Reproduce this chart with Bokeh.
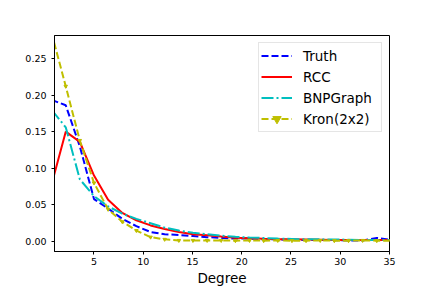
from bokeh.plotting import figure
from bokeh.models import Range1d, FixedTicker, NumeralTickFormatter, Legend, LegendItem
from bokeh.embed import file_html
from bokeh.resources import INLINE

degree = [0.70, 2.14, 3.57, 5.01, 6.44, 7.88, 9.31, 10.75, 12.18, 13.62, 15.05, 16.49, 17.92,
          19.36, 20.79, 22.23, 23.66, 25.10, 26.53, 27.97, 29.40, 30.84, 32.27, 33.71, 35.14]

truth = [0.1935, 0.186, 0.130, 0.058, 0.045, 0.031, 0.021, 0.013, 0.010, 0.009, 0.0075, 0.006, 0.005,
         0.004, 0.004, 0.003, 0.003, 0.002, 0.002, 0.002, 0.002, 0.0015, 0.0015, 0.005, 0.002]
rcc = [0.078, 0.150, 0.136, 0.090, 0.057, 0.039, 0.029, 0.022, 0.017, 0.013, 0.010, 0.0085, 0.0068,
       0.0053, 0.0045, 0.0038, 0.0032, 0.003, 0.0028, 0.0025, 0.0022, 0.002, 0.002, 0.002, 0.002]
bnp = [0.180, 0.156, 0.085, 0.062, 0.048, 0.038, 0.031, 0.025, 0.019, 0.015, 0.012, 0.010, 0.008,
       0.0065, 0.0055, 0.0048, 0.004, 0.0035, 0.003, 0.003, 0.0028, 0.0025, 0.002, 0.002, 0.002]
kron = [0.285, 0.212, 0.138, 0.080, 0.044, 0.027, 0.015, 0.006, 0.003, 0.0015, 0.0015, 0.0015, 0.0015,
        0.0012, 0.0015, 0.0012, 0.0015, 0.0012, 0.0012, 0.0015, 0.0012, 0.0012, 0.0015, 0.0012, 0.0012]

x_ticks = [5, 10, 15, 20, 25, 30, 35]
y_ticks = [0.0, 0.05, 0.10, 0.15, 0.20, 0.25]

FONT = "DejaVu Sans"

p = figure(width=432, height=288, output_backend="svg", toolbar_location=None,
           x_range=Range1d(1, 35), y_range=Range1d(-0.0136, 0.2813),
           min_border_left=54, min_border_right=43, min_border_top=35, min_border_bottom=36)
p.background_fill_color = "white"
p.border_fill_color = "white"
p.outline_line_color = "black"
p.outline_line_width = 1
p.xgrid.visible = False
p.ygrid.visible = False

for ax in (p.xaxis[0], p.yaxis[0]):
    ax.axis_line_color = "black"
    ax.axis_line_width = 1
    ax.major_tick_line_color = "black"
    ax.major_tick_out = 3
    ax.major_tick_in = 0
    ax.minor_tick_out = 0
    ax.minor_tick_in = 0
    ax.major_label_text_font = FONT
    ax.major_label_text_font_size = "9.5px"
    ax.major_label_text_color = "black"

p.xaxis.ticker = FixedTicker(ticks=x_ticks)
p.yaxis.ticker = FixedTicker(ticks=y_ticks)
p.yaxis.formatter = NumeralTickFormatter(format="0.00")
p.xaxis.major_label_standoff = 3
p.yaxis.major_label_standoff = 5
p.xaxis.axis_label = "Degree"
p.xaxis.axis_label_text_font = FONT
p.xaxis.axis_label_text_font_size = "13.5px"
p.xaxis.axis_label_text_font_style = "normal"
p.xaxis.axis_label_text_color = "black"
p.xaxis.axis_label_standoff = 2

r_truth = p.line(degree, truth, line_color="#0000ff", line_width=2, line_dash="7 3")
r_rcc = p.line(degree, rcc, line_color="#ff0000", line_width=2)
r_bnp = p.line(degree, bnp, line_color="#00bfbf", line_width=2, line_dash="12 3 2 3")
r_kron = p.line(degree, kron, line_color="#bfbf00", line_width=2, line_dash="7 3")
r_kron_m = p.scatter(degree, kron, marker="inverted_triangle", size=3.5,
                     fill_color="#bfbf00", line_color="#bfbf00")

legend = Legend(items=[
    LegendItem(label="Truth", renderers=[r_truth]),
    LegendItem(label="RCC", renderers=[r_rcc]),
    LegendItem(label="BNPGraph", renderers=[r_bnp]),
    LegendItem(label="Kron(2x2)", renderers=[r_kron, r_kron_m]),
], location="top_right")
legend.margin = 7
legend.padding = 2
legend.spacing = 0
legend.label_height = 21
legend.glyph_height = 21
legend.glyph_width = 31
legend.label_standoff = 11
legend.label_width = 76
legend.label_text_font = FONT
legend.label_text_font_size = "13.5px"
legend.label_text_color = "black"
legend.border_line_color = "#cccccc"
legend.border_line_width = 1
legend.background_fill_alpha = 0.8
p.add_layout(legend, "center")

open("out.html", "w").write(file_html(p, INLINE))
